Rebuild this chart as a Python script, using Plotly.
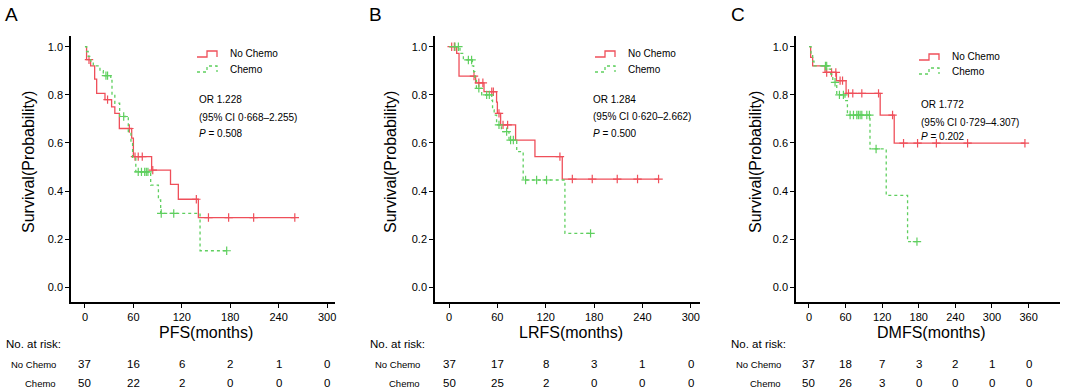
import plotly.graph_objects as go

W, H = 1065, 391
FONT = "Liberation Sans, Arial, sans-serif"
RED = "#ef4f5a"
GREEN = "#5fcf5f"

# ---------------- data ----------------
panel_letters = ["A", "B", "C"]
x_titles = ["PFS(months)", "LRFS(months)", "DMFS(months)"]
group_names = ["No Chemo", "Chemo"]

or_text = ["OR 1.228", "OR 1.284", "OR 1.772"]
ci_text = ["(95% CI 0·668–2.255)", "(95% CI 0·620–2.662)", "(95% CI 0·729–4.307)"]
p_text = ["0.508", "0.500", "0.202"]

x_ticks_A = [0, 60, 120, 180, 240, 300]
x_ticks_B = [0, 60, 120, 180, 240, 300]
x_ticks_C = [0, 60, 120, 180, 240, 300, 360]
y_ticks = [0.0, 0.2, 0.4, 0.6, 0.8, 1.0]
y_tick_labels = ["0.0", "0.2", "0.4", "0.6", "0.8", "1.0"]

# Panel A (PFS)
A_nochemo_t = [0, 2, 7, 12, 14.5, 24.8, 33, 37, 42.6, 57.9, 60, 82.6, 106, 115.7, 140.5]
A_nochemo_s = [1.0, 0.946, 0.92, 0.865, 0.806, 0.78, 0.75, 0.723, 0.66, 0.62, 0.543, 0.487, 0.428, 0.366, 0.29]
A_nochemo_c = [5, 28, 55, 62, 66, 71, 84, 138, 153, 178, 209, 260]
A_chemo_t = [0, 2, 4, 7, 10.3, 18.6, 22.7, 32, 33.5, 37, 43, 53.7, 57, 59, 63, 81.4, 91, 93.8, 142.6]
A_chemo_s = [1.0, 0.98, 0.96, 0.94, 0.92, 0.90, 0.88, 0.86, 0.80, 0.765, 0.71, 0.647, 0.60, 0.536, 0.48, 0.425, 0.363, 0.307, 0.152]
A_chemo_c = [26, 28, 48, 66, 70, 74, 76, 78, 94.5, 110, 175.6]

# Panel B (LRFS)
B_nochemo_t = [0, 9.5, 12.4, 33, 43.4, 59, 60, 64, 82.6, 106.6, 140.5]
B_nochemo_s = [1.0, 0.972, 0.878, 0.85, 0.813, 0.77, 0.723, 0.675, 0.612, 0.543, 0.45]
B_nochemo_c = [3.3, 6.6, 31, 37, 42, 53, 55, 62, 67, 72.7, 137.6, 153, 177.7, 208.7, 233.9, 260]
B_chemo_t = [0, 13.6, 17.8, 29, 30.6, 32, 34, 40.5, 53, 54, 56, 59, 65, 74.4, 84, 92, 143.8]
B_chemo_s = [1.0, 0.972, 0.945, 0.92, 0.896, 0.86, 0.827, 0.80, 0.778, 0.737, 0.716, 0.675, 0.647, 0.612, 0.564, 0.446, 0.224]
B_chemo_c = [7.4, 11.6, 24, 28, 37, 46.7, 50, 62, 71.5, 76.4, 79.8, 95, 108.7, 121, 175.6]

# Panel C (DMFS)
C_nochemo_t = [0, 2.7, 6, 26.3, 45, 60.8, 116.7, 139.7]
C_nochemo_s = [1.0, 0.956, 0.92, 0.893, 0.859, 0.806, 0.716, 0.599]
C_nochemo_c = [29, 37, 44, 51, 55, 64.7, 71.8, 86.6, 114, 137, 155, 178, 208.8, 260, 354]
C_chemo_t = [0, 3.3, 6, 8.2, 31.8, 35.6, 39, 45.5, 59, 63, 100, 126.6, 161.6]
C_chemo_s = [1.0, 0.97, 0.94, 0.92, 0.907, 0.886, 0.852, 0.80, 0.776, 0.716, 0.575, 0.382, 0.19]
C_chemo_c = [27, 29, 42.7, 49.9, 56.4, 67.4, 72.9, 78.4, 81, 83.8, 86.6, 94.8, 99, 110, 177]

# Numbers at risk
A_risk_nochemo = [37, 16, 6, 2, 1, 0]
A_risk_chemo = [50, 22, 2, 0, 0, 0]
B_risk_nochemo = [37, 17, 8, 3, 1, 0]
B_risk_chemo = [50, 25, 2, 0, 0, 0]
C_risk_nochemo = [37, 18, 7, 3, 2, 1, 0]
C_risk_chemo = [50, 26, 3, 0, 0, 0, 0]

# ---------------- layout geometry (pixels) ----------------
panels = [
    dict(ax_left=71, ax_right=335, xr=[-17.3, 309.8], ticks=x_ticks_A,
         red=(A_nochemo_t, A_nochemo_s, A_nochemo_c), green=(A_chemo_t, A_chemo_s, A_chemo_c),
         risk=(A_risk_nochemo, A_risk_chemo), letter_x=11, ytitle_x=28,
         leg_x=197, leg_y=(54, 69), or_x=197, or_y=(100, 118, 133)),
    dict(ax_left=435, ax_right=700, xr=[-17.4, 311.4], ticks=x_ticks_B,
         red=(B_nochemo_t, B_nochemo_s, B_nochemo_c), green=(B_chemo_t, B_chemo_s, B_chemo_c),
         risk=(B_risk_nochemo, B_risk_chemo), letter_x=375, ytitle_x=390,
         leg_x=595, leg_y=(54, 69), or_x=591, or_y=(100, 117, 133)),
    dict(ax_left=796, ax_right=1060, xr=[-21.3, 411.5], ticks=x_ticks_C,
         red=(C_nochemo_t, C_nochemo_s, C_nochemo_c), green=(C_chemo_t, C_chemo_s, C_chemo_c),
         risk=(C_risk_nochemo, C_risk_chemo), letter_x=738, ytitle_x=755,
         leg_x=919, leg_y=(57, 71), or_x=919, or_y=(104, 122, 137)),
]
AX_TOP, AX_BOTTOM = 36, 302
Y_RANGE = [-0.061, 1.0445]


def px(x):
    return x / W


def py(y):
    return 1 - y / H


def step_value(ts, ss, t):
    v = ss[0]
    for ti, si in zip(ts, ss):
        if ti <= t:
            v = si
    return v


fig = go.Figure()
annotations = []
shapes = []
layout_axes = {}

for i, p in enumerate(panels):
    n = "" if i == 0 else str(i + 1)
    xa, ya = "x" + n, "y" + n
    layout_axes["xaxis" + n] = dict(
        domain=[px(p["ax_left"]), px(p["ax_right"])], range=p["xr"], anchor=ya,
        tickmode="array", tickvals=p["ticks"], ticktext=[str(t) for t in p["ticks"]],
        ticks="outside", ticklen=4, tickwidth=1.2, tickcolor="black",
        showline=True, linecolor="black", linewidth=1.6, showgrid=False, zeroline=False,
        tickfont=dict(family=FONT, size=11, color="black"), fixedrange=True)
    layout_axes["yaxis" + n] = dict(
        domain=[py(AX_BOTTOM), py(AX_TOP)], range=Y_RANGE, anchor=xa,
        tickmode="array", tickvals=y_ticks, ticktext=y_tick_labels,
        ticks="outside", ticklen=4, tickwidth=1.2, tickcolor="black",
        showline=True, linecolor="black", linewidth=1.6, showgrid=False, zeroline=False,
        tickfont=dict(family=FONT, size=11, color="black"), fixedrange=True)

    for (ts, ss, cs), color, dash, name in [
        (p["red"], RED, "solid", group_names[0]),
        (p["green"], GREEN, "dot", group_names[1]),
    ]:
        end = max(max(cs), ts[-1])
        xs = list(ts) + [end]
        ys = list(ss) + [ss[-1]]
        fig.add_trace(go.Scatter(x=xs, y=ys, mode="lines", line_shape="hv",
                                 line=dict(color=color, width=1.3, dash=dash),
                                 xaxis=xa, yaxis=ya, showlegend=False, name=name,
                                 hoverinfo="skip"))
        fig.add_trace(go.Scatter(x=cs, y=[step_value(ts, ss, c) for c in cs], mode="markers",
                                 marker=dict(symbol="cross-thin-open", size=6, color=color,
                                             line=dict(color=color, width=1.2)),
                                 xaxis=xa, yaxis=ya, showlegend=False, name=name,
                                 hoverinfo="skip"))

    # panel letter
    annotations.append(dict(text=panel_letters[i], x=px(p["letter_x"]), y=py(15),
                            xref="paper", yref="paper", showarrow=False,
                            font=dict(family=FONT, size=19, color="black"),
                            xanchor="center", yanchor="middle"))
    # y title
    annotations.append(dict(text="Survival(Probability)", x=px(p["ytitle_x"]),
                            y=py(162), xref="paper", yref="paper", showarrow=False,
                            textangle=-90, font=dict(family=FONT, size=16, color="black"),
                            xanchor="center", yanchor="middle"))
    # x title
    annotations.append(dict(text=x_titles[i], x=(p["ax_left"] + p["ax_right"]) / 2 / W + 0.003,
                            y=py(332), xref="paper", yref="paper", showarrow=False,
                            font=dict(family=FONT, size=16, color="black"),
                            xanchor="center", yanchor="middle"))
    # legend
    lx = p["leg_x"]
    for k, (color, dash, name) in enumerate([(RED, "solid", group_names[0]),
                                              (GREEN, "dot", group_names[1])]):
        cy = p["leg_y"][k]
        path = "M {} {} L {} {} L {} {} L {} {} L {} {}".format(
            px(lx), py(cy + 3), px(lx + 10), py(cy + 3), px(lx + 10), py(cy - 3),
            px(lx + 20), py(cy - 3), px(lx + 20), py(cy + 3))
        shapes.append(dict(type="path", path=path, xref="paper", yref="paper",
                           line=dict(color=color, width=1.3, dash=dash)))
        annotations.append(dict(text=name, x=px(lx + 31), y=py(cy), xref="paper", yref="paper",
                                showarrow=False, xanchor="left", yanchor="middle",
                                font=dict(family=FONT, size=10, color="black")))
    # OR text
    for txt, yy in zip([or_text[i], ci_text[i], "<i>P</i> = " + p_text[i]], p["or_y"]):
        annotations.append(dict(text=txt, x=px(p["or_x"]), y=py(yy), xref="paper", yref="paper",
                                showarrow=False, xanchor="left", yanchor="middle",
                                font=dict(family=FONT, size=10, color="black")))
    # risk table
    annotations.append(dict(text="No. at risk:", x=px(p["ax_left"] - 67), y=py(344),
                            xref="paper", yref="paper", showarrow=False,
                            xanchor="left", yanchor="middle",
                            font=dict(family=FONT, size=11.5, color="black")))
    for k, (row, yy) in enumerate(zip(p["risk"], [364, 383])):
        annotations.append(dict(text=group_names[k], x=px(p["ax_left"] - 13), y=py(yy),
                                xref="paper", yref="paper", showarrow=False,
                                xanchor="right", yanchor="middle",
                                font=dict(family=FONT, size=9.5, color="black")))
        for t, v in zip(p["ticks"], row):
            annotations.append(dict(text=str(v), x=t, y=py(yy), xref=xa, yref="paper",
                                    showarrow=False, xanchor="center", yanchor="middle",
                                    font=dict(family=FONT, size=11.5, color="black")))

fig.update_layout(width=W, height=H, autosize=False,
                  margin=dict(l=0, r=0, t=0, b=0),
                  paper_bgcolor="white", plot_bgcolor="white",
                  annotations=annotations, shapes=shapes, showlegend=False,
                  **layout_axes)
fig.write_html("out.html", config={"displayModeBar": False},
               post_script="document.body.style.margin='0';document.body.style.overflow='hidden';")
